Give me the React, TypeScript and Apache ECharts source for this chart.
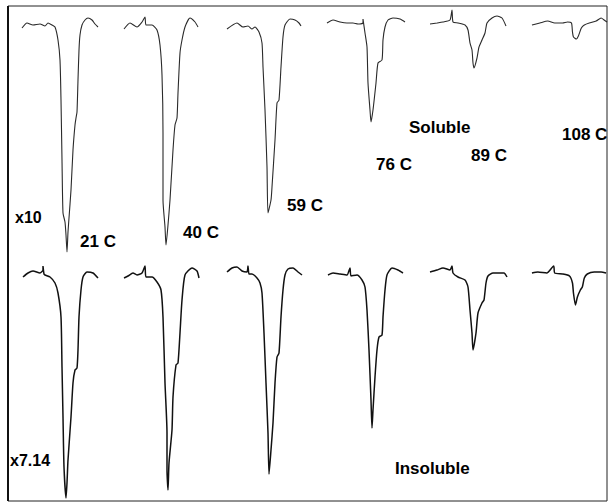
import React, { useEffect, useRef } from "react";
import * as echarts from "echarts";

// Temperatures of the six spectra in each row
const temperatures = ["21 C", "40 C", "59 C", "76 C", "89 C", "108 C"];
const rowLabels = ["Soluble", "Insoluble"];
const scaleFactors = ["x10", "x7.14"];

// Local velocity channel (x) vs. absorption depth (y, larger = deeper), soluble fraction
const soluble21: number[][] = [[0,23],[5,18],[11,20],[18,19],[23,21],[26,18],[30,20],[33,22],[36,35],[38,55],[39,95],[40,155],[41,208],[43,217],[44,230],[45,247],[46,227],[47,213],[49,185],[51,145],[53,120],[54,113],[55,107],[56,75],[57,45],[58,30],[60,20],[63,15],[66,13],[70,15],[73,19],[76,22]];
const soluble40: number[][] = [[0,24],[6,18],[13,22],[18,17],[21,12],[22,20],[28,20],[33,25],[36,40],[38,70],[39,128],[39,195],[41,222],[42,240],[44,220],[46,195],[49,145],[51,120],[53,113],[54,88],[56,48],[58,35],[61,22],[66,13],[71,17],[74,22]];
const soluble59: number[][] = [[1,24],[11,18],[17,22],[22,21],[26,24],[29,22],[33,27],[36,38],[37,62],[39,105],[41,162],[42,208],[45,195],[46,182],[49,135],[51,98],[53,95],[55,62],[57,32],[59,20],[64,14],[69,15],[73,18],[75,21]];
const soluble76: number[][] = [[-1,18],[5,15],[12,17],[19,18],[25,18],[30,19],[35,18],[35,14],[37,28],[39,42],[40,78],[42,105],[43,117],[45,105],[48,78],[50,58],[54,55],[55,35],[57,22],[60,15],[65,13],[72,14],[77,17]];
const soluble89: number[][] = [[0,19],[7,18],[13,17],[20,15],[22,5],[23,17],[28,18],[35,20],[38,25],[40,38],[42,45],[43,58],[44,63],[47,53],[49,42],[52,35],[55,28],[57,18],[62,13],[67,11],[72,13],[76,21]];
const soluble108: number[][] = [[0,20],[8,18],[16,16],[23,18],[31,18],[36,17],[40,18],[41,27],[42,32],[45,34],[47,31],[50,23],[53,20],[58,18],[65,16],[70,13],[73,15],[76,17]];

// Insoluble fraction
const insoluble21: number[][] = [[1,22],[6,18],[11,16],[18,18],[21,15],[21,11],[22,19],[23,20],[28,22],[33,28],[36,38],[39,62],[40,112],[41,162],[42,212],[44,243],[45,228],[46,205],[49,162],[51,128],[53,115],[55,113],[56,95],[57,62],[59,35],[61,22],[65,17],[71,18],[76,23]];
const insoluble40: number[][] = [[0,23],[4,21],[9,18],[13,20],[18,18],[21,11],[22,22],[28,22],[33,27],[37,35],[39,62],[41,128],[43,178],[43,215],[44,235],[45,208],[48,175],[49,142],[52,110],[54,108],[56,78],[58,45],[61,20],[68,13],[73,16],[75,23]];
const insoluble59: number[][] = [[1,17],[6,13],[11,12],[16,16],[21,17],[22,11],[23,19],[26,19],[31,23],[34,28],[36,38],[38,78],[40,128],[42,178],[43,219],[45,195],[47,168],[49,128],[51,102],[53,98],[55,62],[57,35],[59,20],[62,14],[67,13],[72,17],[76,20]];
const insoluble76: number[][] = [[0,20],[5,18],[12,19],[19,20],[22,13],[23,21],[29,20],[34,25],[37,32],[39,55],[41,95],[43,145],[44,173],[45,155],[47,122],[49,95],[51,82],[54,80],[55,62],[57,35],[59,20],[64,13],[70,15],[75,18]];
const insoluble89: number[][] = [[0,17],[7,15],[13,13],[20,15],[22,11],[23,18],[28,22],[35,25],[38,32],[40,55],[42,78],[43,95],[46,78],[48,58],[52,48],[54,45],[56,28],[58,21],[63,18],[70,18],[74,18],[77,22]];
const insoluble108: number[][] = [[0,18],[6,17],[15,18],[22,11],[23,18],[31,19],[38,21],[41,28],[42,38],[44,50],[46,42],[49,35],[51,32],[53,23],[56,19],[63,17],[70,17],[75,18]];

const solubleSpectra = [soluble21, soluble40, soluble59, soluble76, soluble89, soluble108];
const insolubleSpectra = [insoluble21, insoluble40, insoluble59, insoluble76, insoluble89, insoluble108];

export default function App() {
  const ref = useRef<HTMLDivElement>(null);
  useEffect(() => {
    if (!ref.current) return;
    const chart = echarts.init(ref.current, undefined, { renderer: "svg" });
    const grids: any[] = [];
    const xAxes: any[] = [];
    const yAxes: any[] = [];
    const series: any[] = [];
    const rows = [
      { data: solubleSpectra, top: 5, height: 255, width: 1.1, color: "#2a2a2a" },
      { data: insolubleSpectra, top: 255, height: 245, width: 1.5, color: "#111" },
    ];
    rows.forEach((row, r) => {
      row.data.forEach((d, i) => {
        const idx = grids.length;
        grids.push({ left: 18 + 102 * i, width: 84, top: row.top, height: row.height, containLabel: false });
        xAxes.push({ type: "value", gridIndex: idx, min: -4, max: 80, show: false });
        yAxes.push({ type: "value", gridIndex: idx, min: 0, max: row.height, inverse: true, show: false });
        series.push({
          type: "line",
          name: `${rowLabels[r]} ${temperatures[i]}`,
          xAxisIndex: idx,
          yAxisIndex: idx,
          data: d,
          showSymbol: false,
          symbol: "none",
          smooth: 0.2,
          lineStyle: { color: row.color, width: row.width },
          clip: false,
        });
      });
    });
    const label = (text: string, x: number, y: number, size = 17) => ({
      type: "text",
      x,
      y,
      style: {
        text,
        font: `bold ${size}px "Liberation Sans", Arial, Helvetica, sans-serif`,
        fill: "#000",
        verticalAlign: "middle",
        textVerticalAlign: "middle",
      },
    });
    const tempPos = [[80, 241], [183, 232], [287, 205], [376, 164], [471, 155], [562, 134]];
    const graphic: any[] = [
      { type: "rect", shape: { x: 8, y: 6, width: 599, height: 495 }, style: { fill: "none", stroke: "#222", lineWidth: 1 } },
      { type: "line", shape: { x1: 8, y1: 6, x2: 8, y2: 501 }, style: { stroke: "#111", lineWidth: 2 } },
      ...temperatures.map((t, i) => label(t, tempPos[i][0], tempPos[i][1])),
      label(rowLabels[0], 409, 127),
      label(rowLabels[1], 395, 468),
      label(scaleFactors[0], 15, 217, 16),
      label(scaleFactors[1], 10, 460, 16),
    ];
    chart.setOption({
      animation: false,
      backgroundColor: "#fff",
      grid: grids,
      xAxis: xAxes,
      yAxis: yAxes,
      series,
      graphic,
    });
    return () => chart.dispose();
  }, []);
  return <div ref={ref} style={{ position: "absolute", left: 0, top: 0, width: 611, height: 503 }} />;
}
